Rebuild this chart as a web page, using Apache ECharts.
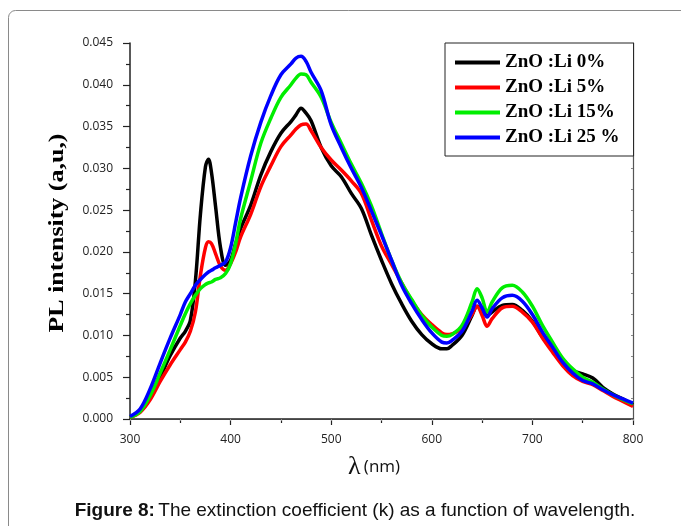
<!DOCTYPE html>
<html><head><meta charset="utf-8">
<script src="https://cdn.jsdelivr.net/npm/echarts@6/dist/echarts.min.js"></script>
<style>html,body{margin:0;padding:0;background:#fff}#c{width:681px;height:526px}</style>
</head><body><div id="c"></div>
<script>
const wavelengths = [300,310,320,330,340,350,355,360,365,370,375,378,381,385,390,395,400,405,410,420,430,440,450,460,465,470,475,480,490,500,510,520,530,540,550,560,570,580,590,600,610,615,620,630,640,645,650,655,660,670,680,690,700,710,720,730,740,750,760,770,780,790,800];
const li0 = [0.0002,0.0009,0.0025,0.0050,0.0076,0.0097,0.0105,0.0118,0.0165,0.0245,0.0302,0.0311,0.0295,0.0255,0.0205,0.0184,0.0190,0.0210,0.0228,0.0256,0.0292,0.0320,0.0342,0.0356,0.0364,0.0372,0.0366,0.0357,0.0325,0.0303,0.0290,0.0270,0.0252,0.0220,0.0190,0.0162,0.0138,0.0117,0.0101,0.0090,0.0084,0.0084,0.0088,0.0100,0.0124,0.0135,0.0130,0.0124,0.0128,0.0136,0.0137,0.0130,0.0117,0.0098,0.0082,0.0067,0.0058,0.0054,0.0049,0.0038,0.0030,0.0024,0.0017];
const li5 = [0.0002,0.0008,0.0023,0.0045,0.0065,0.0083,0.0092,0.0105,0.0128,0.0172,0.0205,0.0212,0.0210,0.0198,0.0183,0.0178,0.0186,0.0200,0.0218,0.0245,0.0278,0.0303,0.0326,0.0340,0.0347,0.0352,0.0353,0.0345,0.0325,0.0310,0.0298,0.0285,0.0270,0.0238,0.0207,0.0185,0.0163,0.0142,0.0125,0.0113,0.0103,0.0101,0.0102,0.0108,0.0125,0.0135,0.0124,0.0111,0.0120,0.0133,0.0135,0.0128,0.0116,0.0097,0.0080,0.0064,0.0052,0.0045,0.0041,0.0034,0.0027,0.0021,0.0015];
const li15 = [0.0002,0.0009,0.0028,0.0055,0.0083,0.0112,0.0126,0.0138,0.0148,0.0156,0.0161,0.0163,0.0164,0.0167,0.0169,0.0174,0.0186,0.0210,0.0240,0.0285,0.0330,0.0360,0.0385,0.0400,0.0408,0.0413,0.0412,0.0403,0.0385,0.0355,0.0330,0.0305,0.0282,0.0255,0.0222,0.0190,0.0163,0.0143,0.0124,0.0110,0.0100,0.0099,0.0101,0.0112,0.0140,0.0156,0.0145,0.0128,0.0140,0.0157,0.0160,0.0152,0.0135,0.0112,0.0092,0.0073,0.0060,0.0050,0.0044,0.0036,0.0029,0.0023,0.0018];
const li25 = [0.0003,0.0012,0.0036,0.0067,0.0097,0.0125,0.0140,0.0150,0.0160,0.0167,0.0173,0.0176,0.0178,0.0181,0.0184,0.0188,0.0205,0.0235,0.0265,0.0315,0.0355,0.0387,0.0412,0.0425,0.0432,0.0434,0.0428,0.0415,0.0393,0.0352,0.0325,0.0300,0.0277,0.0249,0.0220,0.0190,0.0160,0.0138,0.0119,0.0103,0.0092,0.0091,0.0094,0.0105,0.0129,0.0142,0.0133,0.0122,0.0132,0.0145,0.0148,0.0141,0.0125,0.0104,0.0086,0.0068,0.0055,0.0046,0.0042,0.0035,0.0029,0.0024,0.0019];
const seriesNames = ['ZnO :Li 0%','ZnO :Li 5%','ZnO :Li 15%','ZnO :Li 25 %'];
const seriesColors = ['#000000','#ff0000','#00ee00','#0000ff'];
const seriesValues = [li0, li5, li15, li25];

const chart = echarts.init(document.getElementById('c'), null, {renderer:'canvas'});
const pair = arr => wavelengths.map((w,i)=>[w,arr[i]]);
const tickFont = {fontFamily:'Open Sans', fontSize:12, color:'#222'};
chart.setOption({
  animation:false,
  backgroundColor:'#fff',
  grid:{left:130, right:48, top:43, bottom:107, containLabel:false},
  legend:{
    left:445, top:43, orient:'vertical',
    data: seriesNames.map(n=>({name:n, icon:'rect'})),
    itemWidth:45, itemHeight:4, itemGap:6, itemTextGap:5,
    backgroundColor:'#fff', borderColor:'#222', borderWidth:1,
    padding:[10,14,9,10],
    textStyle:{fontFamily:'Liberation Serif', fontWeight:'bold', fontSize:19, color:'#000', lineHeight:19}
  },
  xAxis:[{
    type:'value', min:300, max:800, interval:100, position:'bottom',
    axisLine:{lineStyle:{color:'#222', width:1.5}},
    axisTick:{inside:false, length:6, lineStyle:{color:'#222', width:1.2}},
    minorTick:{show:true, splitNumber:2, length:4, lineStyle:{color:'#222', width:1.2}},
    axisLabel:Object.assign({margin:15}, tickFont),
    splitLine:{show:false}
  },{
    type:'value', min:300, max:800, interval:50, position:'top',
    axisLine:{lineStyle:{color:'#444', width:1.2}},
    axisTick:{inside:true, length:2, lineStyle:{color:'#888'}},
    axisLabel:{show:false}, splitLine:{show:false}
  }],
  yAxis:[{
    type:'value', min:0, max:0.045, interval:0.005, position:'left',
    axisLine:{show:true, lineStyle:{color:'#222', width:1.5}},
    axisTick:{show:true, inside:false, length:7, lineStyle:{color:'#222', width:1.2}},
    minorTick:{show:true, splitNumber:2, length:4, lineStyle:{color:'#222', width:1.2}},
    axisLabel:Object.assign({margin:17, formatter:v=>v.toFixed(3)}, tickFont),
    splitLine:{show:false}
  },{
    type:'value', min:0, max:0.045, interval:0.0025, position:'right',
    axisLine:{show:true, lineStyle:{color:'#555', width:1.2}},
    axisTick:{show:true, inside:true, length:2, lineStyle:{color:'#888'}},
    axisLabel:{show:false}, splitLine:{show:false}
  }],
  series: seriesNames.map((n,i)=>({
    name:n, type:'line', xAxisIndex:0, yAxisIndex:0,
    data:pair(seriesValues[i]), showSymbol:false, symbol:'none', smooth:0.35,
    lineStyle:{color:seriesColors[i], width:3.5}, itemStyle:{color:seriesColors[i]}
  })),
  graphic:[
    {type:'rect', silent:true, shape:{x:8.5, y:10.5, width:720, height:560, r:7}, style:{fill:'none', stroke:'#8a8a8a', lineWidth:1}},
    {type:'text', silent:true, x:57, y:233, rotation:Math.PI/2, scaleX:1.18, style:{text:'PL intensity (a,u,)', fontFamily:'Liberation Serif', fontWeight:'bold', fontSize:22, fill:'#000', align:'center', verticalAlign:'middle'}},
    {type:'text', silent:true, x:374, y:467, style:{text:'{l|λ} {n|(nm)}', align:'center', verticalAlign:'middle', rich:{l:{fontFamily:'Liberation Serif', fontSize:26, fill:'#111'}, n:{fontFamily:'Open Sans', fontSize:17, fill:'#111'}}}},
    {type:'text', silent:true, x:355, y:511, style:{text:'{b|Figure 8:} {r|The extinction coefficient (k) as a function of wavelength.}', align:'center', verticalAlign:'middle', rich:{b:{fontFamily:'Liberation Sans', fontWeight:'bold', fontSize:19, fill:'#111'}, r:{fontFamily:'Liberation Sans', fontSize:19, fill:'#111'}}}}
  ]
});
</script></body></html>
